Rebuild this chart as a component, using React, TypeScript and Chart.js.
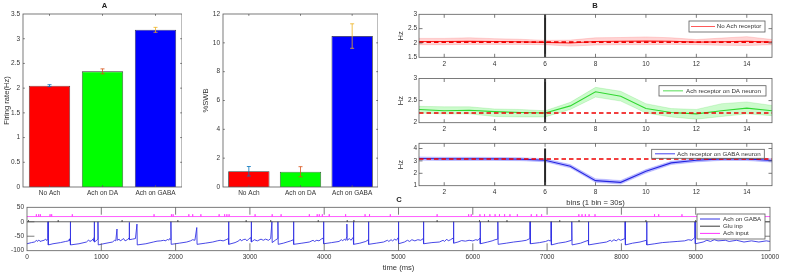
import React, { useEffect, useRef } from "react";
import { Chart, registerables } from "chart.js";

Chart.register(...registerables);

const FONT_FAMILY = "'Liberation Sans', Arial, Helvetica, sans-serif";
const TICK_FONT = { family: FONT_FAMILY, size: 6.5 };
const TITLE_FONT = { family: FONT_FAMILY, size: 7.6 };
const TEXT_COLOR = "#333333";
const BOX_COLOR = "#5a5a5a";

// ---------------- Panel A data ----------------
const BAR_CATEGORIES = ["No Ach", "Ach on DA", "Ach on GABA"];
const FIRING_RATE = [2.05, 2.34, 3.18];
const FIRING_RATE_ERR = [0.02, 0.05, 0.05];
const FIRING_TICKS = [0, 0.5, 1, 1.5, 2, 2.5, 3, 3.5];
const SWB_PERCENT = [1.09, 1.06, 10.47];
const SWB_PERCENT_ERR = [0.33, 0.35, 0.85];
const SWB_TICKS = [0, 2, 4, 6, 8, 10, 12];
const BAR_COLORS = ["#ff0000", "#00ff00", "#0000ff"];
const ERR_COLORS = ["#0072bd", "#d95319", "#edb120"];

// ---------------- Panel B data ----------------
const BINS = [1, 2, 3, 4, 5, 6, 7, 8, 9, 10, 11, 12, 13, 14, 15];
const BIN_TICKS = [2, 4, 6, 8, 10, 12, 14];
const STIM_BIN = 6;

const NO_ACH_MEAN = [2.05, 2.05, 2.06, 2.05, 2.04, 2.02, 2.0, 2.05, 2.06, 2.07, 2.06, 2.03, 2.04, 2.06, 2.03];
const NO_ACH_UPPER = [2.16, 2.16, 2.18, 2.15, 2.13, 2.09, 2.1, 2.18, 2.19, 2.21, 2.18, 2.12, 2.17, 2.22, 2.12];
const NO_ACH_LOWER = [1.94, 1.94, 1.95, 1.95, 1.95, 1.94, 1.89, 1.93, 1.94, 1.94, 1.95, 1.94, 1.92, 1.91, 1.94];
const NO_ACH_BASELINE = 2.03;
const NO_ACH_TICKS = [1.5, 2, 2.5, 3];
const NO_ACH_STIM_RANGE = [1.5, 3];

const DA_MEAN = [2.3, 2.27, 2.28, 2.25, 2.23, 2.22, 2.38, 2.7, 2.6, 2.32, 2.23, 2.2, 2.27, 2.33, 2.27];
const DA_UPPER = [2.37, 2.36, 2.36, 2.31, 2.3, 2.27, 2.46, 2.8, 2.71, 2.43, 2.32, 2.3, 2.43, 2.47, 2.39];
const DA_LOWER = [2.22, 2.2, 2.2, 2.14, 2.13, 2.13, 2.3, 2.58, 2.49, 2.22, 2.13, 2.08, 2.14, 2.2, 2.16];
const DA_BASELINE = 2.22;
const DA_TICKS = [2, 2.5, 3];
const DA_STIM_RANGE = [2, 3];

const GABA_MEAN = [3.19, 3.16, 3.16, 3.16, 3.14, 3.05, 2.57, 1.41, 1.27, 2.16, 2.84, 3.05, 3.16, 3.16, 3.03];
const GABA_UPPER = [3.32, 3.29, 3.29, 3.28, 3.26, 3.18, 2.7, 1.56, 1.42, 2.3, 2.97, 3.18, 3.28, 3.3, 3.17];
const GABA_LOWER = [3.06, 3.03, 3.04, 3.04, 3.02, 2.93, 2.44, 1.27, 1.13, 2.02, 2.71, 2.92, 3.04, 3.03, 2.9];
const GABA_BASELINE = 3.15;
const GABA_TICKS = [1, 2, 3, 4];
const GABA_STIM_RANGE = [1, 4];

// ---------------- Panel C data ----------------
const TIME_TICKS = [0, 1000, 2000, 3000, 4000, 5000, 6000, 7000, 8000, 9000, 10000];
const VM_TICKS = [-100, -50, 0, 50];
const GLU_LEVEL = 0;
const GLU_MARK = 5;
const ACH_LEVEL = 18;
const ACH_MARK = 8;
const GLU_TIMES = [20, 420, 1280, 2030, 2950, 3280, 3920, 4310, 4400, 5520, 6090, 6210, 6460, 7170, 7430, 8330, 9000];
const ACH_TIMES = [
  126, 157, 180, 310, 332, 610, 1710, 1944, 1967, 2178, 2230, 2340, 2586, 2660, 2690, 2720,
  3070, 3300, 3420, 3800, 3906, 3934, 3975, 4068, 4288, 4550, 4610, 4890, 5520, 5944, 5979,
  6096, 6158, 6230, 6300, 6359, 6428, 6500, 6600, 6787, 6860, 6926, 7427, 7470, 7515, 7565,
  7645, 8446, 8502, 8815,
];
const VM_TRACE = [
  [0, -76], [60, -72], [100, -70], [130, -64], [140, -68], [160, -63], [175, -68], [200, -66], [230, -64], [250, -60], [265, -65], [280, -58], [283, 0], [287, -80],
  [350, -76], [450, -72], [520, -68], [560, -66], [570, -60], [575, -65], [580, -58], [583, 0], [587, -80],
  [700, -76], [800, -70], [830, -63], [845, -68], [870, -65], [885, -60], [895, -66], [903, -55], [905, 0], [909, -70], [930, -66], [953, -60], [955, 0], [959, -80],
  [1050, -75], [1150, -70], [1180, -64], [1195, -66], [1211, -25], [1215, -64], [1240, -60], [1255, -66], [1280, -62], [1300, -58], [1320, -66], [1350, -62], [1374, -56], [1376, -2], [1380, -62], [1420, -60], [1460, -58], [1480, -8], [1484, -80],
  [1600, -76], [1700, -70], [1750, -67], [1800, -66], [1840, -64], [1870, -66], [1890, -60], [1905, -64], [1920, -58], [1930, -62], [1937, 0], [1941, -78],
  [2050, -74], [2150, -70], [2200, -66], [2230, -62], [2260, -64], [2285, -20], [2289, -78],
  [2400, -74], [2500, -70], [2560, -66], [2600, -64], [2640, -66], [2680, -62], [2710, -58], [2713, 0], [2717, -78],
  [2800, -72], [2850, -66], [2870, -60], [2885, -66], [2910, -62], [2940, -60], [2960, -66], [2990, -58], [3015, -55], [3018, 0], [3022, -70],
  [3060, -62], [3100, -66], [3150, -60], [3180, -64], [3210, -60], [3250, -64], [3280, -58], [3296, 0], [3300, -72], [3340, -64], [3375, -58], [3377, 0], [3381, -78],
  [3450, -74], [3500, -70], [3550, -66], [3585, -62], [3587, 0], [3591, -78],
  [3700, -74], [3800, -70], [3850, -64], [3870, -68], [3900, -64], [3930, -66], [3960, -60], [3988, -56], [3991, 0], [3995, -76],
  [4100, -72], [4200, -68], [4230, -62], [4250, -66], [4270, -60], [4290, -64], [4303, -52], [4305, -8], [4309, -64], [4340, -58], [4360, -64], [4390, -54], [4394, 0], [4398, -78],
  [4480, -74], [4560, -68], [4594, -62], [4596, 0], [4600, -78],
  [4700, -74], [4800, -70], [4850, -64], [4870, -68], [4900, -62], [4920, -66], [4950, -60], [4970, -64], [4997, -55], [4999, 0], [5003, -76],
  [5080, -70], [5120, -64], [5150, -68], [5180, -62], [5220, -66], [5260, -62], [5300, -64], [5334, -58], [5336, 0], [5340, -76],
  [5450, -72], [5550, -70], [5600, -64], [5620, -68], [5650, -60], [5670, -66], [5700, -62], [5738, -56], [5740, 0], [5744, -74],
  [5800, -70], [5850, -65], [5900, -67], [5950, -64], [6000, -66], [6040, -62], [6070, -64], [6097, -56], [6099, 0], [6103, -76],
  [6200, -70], [6260, -66], [6300, -62], [6335, -60], [6337, 0], [6341, -78],
  [6450, -74], [6550, -70], [6650, -67], [6720, -64], [6768, -58], [6771, 0], [6775, -76],
  [6900, -72], [6980, -68], [7020, -64], [7040, -66], [7052, -58], [7054, 0], [7058, -80],
  [7150, -74], [7250, -70], [7330, -64], [7332, 0], [7336, -80],
  [7450, -74], [7554, -64], [7556, 0], [7560, -80],
  [7700, -74], [7800, -70], [7850, -64], [7870, -68], [7900, -62], [7930, -66], [7960, -60], [7990, -64], [8048, -58], [8050, 0], [8054, -80],
  [8150, -74], [8250, -70], [8338, -64], [8340, 0], [8344, -80],
  [8450, -76], [8550, -72], [8650, -70], [8750, -68], [8850, -66], [8900, -62], [8950, -64], [8970, -58], [8988, -55], [8991, 0], [8995, -76],
  [9100, -70], [9150, -64], [9200, -68], [9250, -62], [9300, -66], [9400, -64], [9450, -68], [9550, -64], [9650, -70], [9750, -66], [9850, -70], [9950, -66], [10000, -68],
];

// ---------------- plugins ----------------
function boxPlugin(tickLen: number) {
  return {
    id: "axesBox",
    afterDatasetsDraw(chart: any) {
      const { left, right, top, bottom } = chart.chartArea;
      const ctx = chart.ctx;
      ctx.save();
      ctx.strokeStyle = BOX_COLOR;
      ctx.lineWidth = 0.8;
      ctx.strokeRect(left, top, right - left, bottom - top);
      ctx.beginPath();
      const xs = chart.scales.x;
      xs.ticks.forEach((_t: any, i: number) => {
        const px = xs.getPixelForTick(i);
        if (px <= left + 0.5 || px >= right - 0.5) return;
        ctx.moveTo(px, bottom);
        ctx.lineTo(px, bottom - tickLen);
        ctx.moveTo(px, top);
        ctx.lineTo(px, top + tickLen);
      });
      const ys = chart.scales.y;
      ys.ticks.forEach((_t: any, i: number) => {
        const py = ys.getPixelForTick(i);
        if (py <= top + 0.5 || py >= bottom - 0.5) return;
        ctx.moveTo(left, py);
        ctx.lineTo(left + tickLen, py);
        ctx.moveTo(right, py);
        ctx.lineTo(right - tickLen, py);
      });
      ctx.stroke();
      ctx.restore();
    },
  };
}

function errorBarPlugin(values: number[], errors: number[], colors: string[]) {
  return {
    id: "errorBars",
    afterDatasetsDraw(chart: any) {
      const meta = chart.getDatasetMeta(0);
      const ys = chart.scales.y;
      const ctx = chart.ctx;
      ctx.save();
      ctx.lineWidth = 0.8;
      meta.data.forEach((bar: any, i: number) => {
        const x = bar.x;
        const y1 = ys.getPixelForValue(values[i] + errors[i]);
        const y2 = ys.getPixelForValue(values[i] - errors[i]);
        const cap = 2;
        ctx.strokeStyle = colors[i];
        ctx.beginPath();
        ctx.moveTo(x, y1);
        ctx.lineTo(x, y2);
        ctx.moveTo(x - cap, y1);
        ctx.lineTo(x + cap, y1);
        ctx.moveTo(x - cap, y2);
        ctx.lineTo(x + cap, y2);
        ctx.stroke();
      });
      ctx.restore();
    },
  };
}

type LegendItem = { label: string; color: string };
type LegendCfg = {
  x: number; y: number; w: number; h: number;
  firstRow: number; rowGap: number; lineStart: number; lineLen: number; textStart: number;
  items: LegendItem[];
};

function legendPlugin(cfg: LegendCfg) {
  return {
    id: "boxLegend",
    afterDraw(chart: any) {
      const ctx = chart.ctx;
      ctx.save();
      ctx.fillStyle = "#ffffff";
      ctx.fillRect(cfg.x, cfg.y, cfg.w, cfg.h);
      ctx.strokeStyle = BOX_COLOR;
      ctx.lineWidth = 0.8;
      ctx.strokeRect(cfg.x, cfg.y, cfg.w, cfg.h);
      ctx.font = `6.2px ${FONT_FAMILY}`;
      ctx.textBaseline = "middle";
      ctx.textAlign = "left";
      cfg.items.forEach((it, i) => {
        const cy = cfg.y + cfg.firstRow + i * cfg.rowGap;
        ctx.strokeStyle = it.color;
        ctx.lineWidth = 1;
        ctx.beginPath();
        ctx.moveTo(cfg.x + cfg.lineStart, cy);
        ctx.lineTo(cfg.x + cfg.lineStart + cfg.lineLen, cy);
        ctx.stroke();
        ctx.fillStyle = TEXT_COLOR;
        ctx.fillText(it.label, cfg.x + cfg.textStart, cy);
      });
      ctx.restore();
    },
  };
}

// ---------------- helpers ----------------
const noGrid = { display: false, drawTicks: false };
const noBorder = { display: false };

function fixedTicks(values: number[]) {
  return (s: any) => {
    s.ticks = values.map((v) => ({ value: v }));
  };
}

function baseOptions(padding: any) {
  return {
    responsive: false,
    maintainAspectRatio: false,
    animation: false,
    devicePixelRatio: 1,
    events: [],
    layout: { padding },
    plugins: { legend: { display: false }, title: { display: false }, tooltip: { enabled: false } },
  };
}

function barConfig(values: number[], errors: number[], ticks: number[], yMax: number, yTitle: string, yWidth: number, titlePad: number, barPct: number) {
  return {
    type: "bar",
    data: {
      labels: BAR_CATEGORIES,
      datasets: [
        {
          data: values,
          backgroundColor: BAR_COLORS,
          borderColor: "#303030",
          borderWidth: 0.8,
          barPercentage: barPct,
          categoryPercentage: 1,
        },
      ],
    },
    options: {
      ...baseOptions({ left: 0, top: 14, right: 0, bottom: 0 }),
      scales: {
        x: {
          type: "category",
          grid: noGrid,
          border: noBorder,
          ticks: { font: TICK_FONT, color: TEXT_COLOR, padding: 2.4, maxRotation: 0, autoSkip: false },
          afterFit: (s: any) => { s.height = 13; },
        },
        y: {
          type: "linear",
          min: 0,
          max: yMax,
          grid: noGrid,
          border: noBorder,
          ticks: { font: TICK_FONT, color: TEXT_COLOR, padding: 3, callback: (v: any) => String(v) },
          afterBuildTicks: fixedTicks(ticks),
          afterFit: (s: any) => { s.width = yWidth; },
          title: { display: true, text: yTitle, font: TITLE_FONT, color: TEXT_COLOR, padding: { top: titlePad, bottom: 0 } },
        },
      },
    },
    plugins: [errorBarPlugin(values, errors, ERR_COLORS), boxPlugin(1.8)],
  };
}

type BPanel = {
  mean: number[]; upper: number[]; lower: number[]; baseline: number; ticks: number[];
  yMin: number; yMax: number; stim: number[];
  color: string; band: string; bandEdge: string;
  padTop: number; xHeight: number; xTitle?: string;
  legend: LegendCfg;
};

function pts(values: number[]) {
  return values.map((v, i) => ({ x: BINS[i], y: v }));
}

function bConfig(p: BPanel) {
  return {
    type: "line",
    data: {
      datasets: [
        { data: pts(p.upper), borderColor: p.bandEdge, borderWidth: 0.6, backgroundColor: p.band, fill: "+1", pointRadius: 0, tension: 0, order: 5 },
        { data: pts(p.lower), borderColor: p.bandEdge, borderWidth: 0.6, fill: false, pointRadius: 0, tension: 0, order: 5 },
        { data: pts(p.mean), borderColor: p.color, borderWidth: 1.1, fill: false, pointRadius: 0, tension: 0, order: 3 },
        {
          data: [{ x: BINS[0], y: p.baseline }, { x: BINS[BINS.length - 1], y: p.baseline }],
          borderColor: "#ee0000", borderWidth: 1.6, borderDash: [4.5, 3], fill: false, pointRadius: 0, order: 2,
        },
        {
          data: [{ x: STIM_BIN, y: p.stim[0] }, { x: STIM_BIN, y: p.stim[1] }],
          borderColor: "#262626", borderWidth: 2, fill: false, pointRadius: 0, order: 1,
        },
      ],
    },
    options: {
      ...baseOptions({ left: 0, top: p.padTop, right: 13, bottom: 0 }),
      scales: {
        x: {
          type: "linear",
          min: BINS[0],
          max: BINS[BINS.length - 1],
          grid: noGrid,
          border: noBorder,
          ticks: { font: TICK_FONT, color: TEXT_COLOR, padding: 3, maxRotation: 0, autoSkip: false, callback: (v: any) => String(v) },
          afterBuildTicks: fixedTicks(BIN_TICKS),
          afterFit: (s: any) => { s.height = p.xHeight; },
          title: p.xTitle
            ? { display: true, text: p.xTitle, font: TITLE_FONT, color: TEXT_COLOR, padding: { top: 0, bottom: 2.4 } }
            : { display: false },
        },
        y: {
          type: "linear",
          min: p.yMin,
          max: p.yMax,
          grid: noGrid,
          border: noBorder,
          ticks: { font: TICK_FONT, color: TEXT_COLOR, padding: 2, callback: (v: any) => String(v) },
          afterBuildTicks: fixedTicks(p.ticks),
          afterFit: (s: any) => { s.width = 24; },
          title: { display: true, text: "Hz", font: TITLE_FONT, color: TEXT_COLOR, padding: { top: 1.6, bottom: 0 } },
        },
      },
    },
    plugins: [boxPlugin(3.5), legendPlugin(p.legend)],
  };
}

function markTrain(times: number[], level: number, mark: number) {
  const out: { x: number; y: number }[] = [{ x: TIME_TICKS[0], y: level }];
  times.forEach((t) => {
    out.push({ x: t, y: level }, { x: t, y: level + mark }, { x: t, y: level });
  });
  out.push({ x: TIME_TICKS[TIME_TICKS.length - 1], y: level });
  return out;
}

function cConfig() {
  return {
    type: "line",
    data: {
      datasets: [
        { data: VM_TRACE.map(([t, v]) => ({ x: t, y: v })), borderColor: "#3434e4", borderWidth: 0.9, pointRadius: 0, tension: 0, fill: false, order: 3 },
        { data: markTrain(GLU_TIMES, GLU_LEVEL, GLU_MARK), borderColor: "#3a3a3a", borderWidth: 0.8, pointRadius: 0, tension: 0, fill: false, order: 2 },
        { data: markTrain(ACH_TIMES, ACH_LEVEL, ACH_MARK), borderColor: "#ff33ff", borderWidth: 0.8, pointRadius: 0, tension: 0, fill: false, order: 1 },
      ],
    },
    options: {
      ...baseOptions({ left: 0, top: 7.3, right: 15, bottom: 0 }),
      scales: {
        x: {
          type: "linear",
          min: 0,
          max: 10000,
          grid: noGrid,
          border: noBorder,
          ticks: { font: TICK_FONT, color: TEXT_COLOR, padding: 2.7, maxRotation: 0, autoSkip: false, callback: (v: any) => String(v) },
          afterBuildTicks: fixedTicks(TIME_TICKS),
          afterFit: (s: any) => { s.height = 25.3; },
          title: { display: true, text: "time (ms)", font: TITLE_FONT, color: TEXT_COLOR, padding: { top: 0, bottom: 3.4 } },
        },
        y: {
          type: "linear",
          min: -100,
          max: 50,
          grid: noGrid,
          border: noBorder,
          ticks: { font: TICK_FONT, color: TEXT_COLOR, padding: 3, callback: (v: any) => String(v) },
          afterBuildTicks: fixedTicks(VM_TICKS),
          afterFit: (s: any) => { s.width = 27; },
        },
      },
    },
    plugins: [
      boxPlugin(7.4),
      legendPlugin({
        x: 697, y: 14, w: 68, h: 25, firstRow: 5, rowGap: 7.2, lineStart: 3, lineLen: 20, textStart: 26,
        items: [
          { label: "Ach on GABA", color: "#3434e4" },
          { label: "Glu inp", color: "#3a3a3a" },
          { label: "Ach input", color: "#ff33ff" },
        ],
      }),
    ],
  };
}

// ---------------- components ----------------
type Pos = { left: number; top: number; width: number; height: number };

function ChartCanvas({ pos, make }: { pos: Pos; make: () => any }) {
  const ref = useRef<HTMLCanvasElement>(null);
  useEffect(() => {
    const chart = new Chart(ref.current as HTMLCanvasElement, make());
    return () => chart.destroy();
  }, []);
  return (
    <canvas
      ref={ref}
      width={pos.width}
      height={pos.height}
      style={{ position: "absolute", left: pos.left, top: pos.top, width: pos.width, height: pos.height }}
    />
  );
}

function PanelLetter({ text, x, y }: { text: string; x: number; y: number }) {
  return (
    <div
      style={{
        position: "absolute", left: x, top: y, transform: "translate(-50%, -50%)",
        font: `bold 7.6px ${FONT_FAMILY}`, color: "#222", lineHeight: "1", whiteSpace: "nowrap",
      }}
    >
      {text}
    </div>
  );
}

export default function App() {
  return (
    <div style={{ position: "absolute", left: 0, top: 0, width: 785, height: 276, background: "#ffffff", overflow: "hidden" }}>
      <ChartCanvas
        pos={{ left: 0, top: 0, width: 182, height: 200 }}
        make={() => barConfig(FIRING_RATE, FIRING_RATE_ERR, FIRING_TICKS, 3.5, "Firing rate(Hz)", 23, 2, 0.78)}
      />
      <ChartCanvas
        pos={{ left: 195, top: 0, width: 183, height: 200 }}
        make={() => barConfig(SWB_PERCENT, SWB_PERCENT_ERR, SWB_TICKS, 12, "%SWB", 28, 6.4, 0.8)}
      />
      <ChartCanvas
        pos={{ left: 395, top: 0, width: 390, height: 70 }}
        make={() =>
          bConfig({
            mean: NO_ACH_MEAN, upper: NO_ACH_UPPER, lower: NO_ACH_LOWER, baseline: NO_ACH_BASELINE, ticks: NO_ACH_TICKS,
            yMin: 1.5, yMax: 3, stim: NO_ACH_STIM_RANGE,
            color: "#ff2020", band: "rgba(255,0,0,0.17)", bandEdge: "rgba(255,0,0,0.25)",
            padTop: 14.3, xHeight: 12.7,
            legend: {
              x: 294, y: 21, w: 76, h: 11, firstRow: 5.5, rowGap: 0, lineStart: 2, lineLen: 24, textStart: 27.7,
              items: [{ label: "No Ach receptor", color: "#ff5a5a" }],
            },
          })
        }
      />
      <ChartCanvas
        pos={{ left: 395, top: 66, width: 390, height: 70 }}
        make={() =>
          bConfig({
            mean: DA_MEAN, upper: DA_UPPER, lower: DA_LOWER, baseline: DA_BASELINE, ticks: DA_TICKS,
            yMin: 2, yMax: 3, stim: DA_STIM_RANGE,
            color: "#30d830", band: "rgba(0,235,0,0.2)", bandEdge: "rgba(0,200,0,0.25)",
            padTop: 12.5, xHeight: 13.3,
            legend: {
              x: 264, y: 19.7, w: 107, h: 10.3, firstRow: 5.15, rowGap: 0, lineStart: 4, lineLen: 20, textStart: 27,
              items: [{ label: "Ach receptor on DA neuron", color: "#55dd55" }],
            },
          })
        }
      />
      <ChartCanvas
        pos={{ left: 395, top: 132, width: 390, height: 78 }}
        make={() =>
          bConfig({
            mean: GABA_MEAN, upper: GABA_UPPER, lower: GABA_LOWER, baseline: GABA_BASELINE, ticks: GABA_TICKS,
            yMin: 1, yMax: 4.42, stim: GABA_STIM_RANGE,
            color: "#2525e0", band: "rgba(40,40,255,0.28)", bandEdge: "rgba(40,40,255,0.3)",
            padTop: 11.3, xHeight: 24.3, xTitle: "bins (1 bin = 30s)",
            legend: {
              x: 256.7, y: 17.3, w: 112.6, h: 9, firstRow: 4.5, rowGap: 0, lineStart: 3.3, lineLen: 20, textStart: 25.3,
              items: [{ label: "Ach receptor on GABA neuron", color: "#4444ee" }],
            },
          })
        }
      />
      <ChartCanvas pos={{ left: 0, top: 200, width: 785, height: 76 }} make={cConfig} />
      <PanelLetter text="A" x={104.5} y={6.3} />
      <PanelLetter text="B" x={595} y={6.3} />
      <PanelLetter text="C" x={399} y={200} />
    </div>
  );
}
